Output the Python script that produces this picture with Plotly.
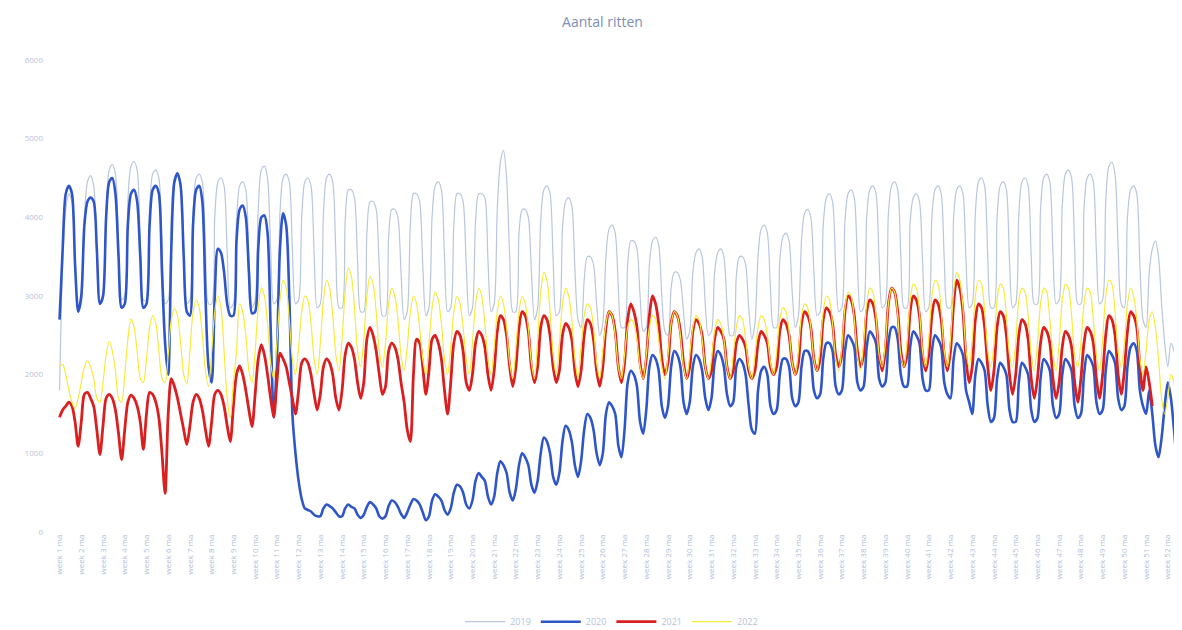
import plotly.graph_objects as go

title = "Aantal ritten"
series_names = ["2019", "2020", "2021", "2022"]
day_names = ["ma", "di", "wo", "do", "vr", "za", "zo"]
week_numbers = list(range(1, 53))

# weekly rows of 7 daily values
v2019 = [
    [1800, 3400, 4100, 4300, 4200, 3400, 2800],
    [2900, 4000, 4450, 4530, 4400, 3600, 2900],
    [2950, 4100, 4600, 4670, 4550, 3700, 2950],
    [3000, 4200, 4650, 4710, 4600, 3700, 2950],
    [2950, 4100, 4550, 4600, 4500, 3650, 2900],
    [2950, 4050, 4500, 4550, 4450, 3600, 2900],
    [2950, 4050, 4500, 4550, 4450, 3600, 2900],
    [2900, 4000, 4450, 4500, 4400, 3550, 2850],
    [2900, 3950, 4400, 4450, 4350, 3500, 2850],
    [2950, 4100, 4600, 4650, 4500, 3600, 2900],
    [2950, 4050, 4500, 4550, 4450, 3600, 2900],
    [2950, 4000, 4450, 4500, 4400, 3550, 2850],
    [2900, 4050, 4500, 4550, 4450, 3550, 2850],
    [2850, 3950, 4350, 4350, 4250, 3450, 2800],
    [2800, 3800, 4200, 4200, 4100, 3350, 2750],
    [2750, 3750, 4100, 4100, 4000, 3300, 2700],
    [2800, 3900, 4300, 4300, 4200, 3400, 2750],
    [2850, 4000, 4400, 4450, 4350, 3500, 2800],
    [2850, 3900, 4300, 4300, 4200, 3400, 2750],
    [2850, 3950, 4300, 4300, 4250, 3450, 2800],
    [2900, 4100, 4700, 4850, 4500, 3500, 2800],
    [2800, 3800, 4100, 4100, 4000, 3300, 2700],
    [2850, 3950, 4350, 4400, 4300, 3450, 2750],
    [2800, 3850, 4200, 4250, 4150, 3350, 2700],
    [2600, 3200, 3500, 3500, 3400, 2900, 2500],
    [2650, 3500, 3850, 3900, 3800, 3100, 2600],
    [2600, 3400, 3700, 3700, 3600, 3000, 2550],
    [2600, 3400, 3700, 3750, 3650, 3000, 2550],
    [2500, 3100, 3300, 3300, 3200, 2800, 2450],
    [2550, 3300, 3550, 3600, 3500, 2900, 2500],
    [2550, 3300, 3550, 3600, 3500, 2900, 2500],
    [2500, 3250, 3500, 3500, 3400, 2850, 2450],
    [2650, 3500, 3850, 3900, 3800, 3100, 2600],
    [2600, 3450, 3750, 3800, 3700, 3050, 2600],
    [2750, 3700, 4050, 4100, 4000, 3300, 2750],
    [2800, 3900, 4250, 4300, 4200, 3400, 2800],
    [2850, 3950, 4300, 4350, 4250, 3450, 2800],
    [2850, 4000, 4350, 4400, 4300, 3450, 2850],
    [2900, 4050, 4400, 4450, 4350, 3500, 2850],
    [2850, 3950, 4250, 4300, 4200, 3450, 2800],
    [2850, 4000, 4350, 4400, 4300, 3450, 2850],
    [2850, 4000, 4350, 4400, 4300, 3450, 2850],
    [2900, 4050, 4450, 4500, 4400, 3500, 2850],
    [2850, 4000, 4400, 4450, 4350, 3450, 2850],
    [2900, 4050, 4450, 4500, 4400, 3500, 2900],
    [2900, 4100, 4500, 4550, 4450, 3550, 2900],
    [2950, 4150, 4550, 4600, 4500, 3600, 2900],
    [2900, 4100, 4500, 4550, 4450, 3550, 2900],
    [2950, 4200, 4650, 4700, 4550, 3600, 2900],
    [2850, 4000, 4350, 4400, 4300, 3400, 2700],
    [2600, 3300, 3600, 3700, 3500, 2900, 2400],
    [2100, 2400, 2300, 2100, 2000, 2100, 2200],
]

v2020 = [
    [2700, 3600, 4300, 4400, 4300, 3400, 2800],
    [3000, 3900, 4200, 4250, 4200, 3600, 2900],
    [3000, 4000, 4450, 4500, 4300, 3500, 2850],
    [2900, 3900, 4300, 4350, 4200, 3500, 2850],
    [2900, 3900, 4350, 4400, 4300, 3300, 2400],
    [2000, 3600, 4450, 4560, 4400, 3500, 2800],
    [2750, 3900, 4350, 4400, 4200, 3000, 2100],
    [1900, 3000, 3600, 3550, 3300, 2900, 2750],
    [2750, 3700, 4100, 4150, 4000, 3300, 2780],
    [2800, 3600, 4000, 4025, 3800, 2600, 1460],
    [2200, 3600, 4050, 3900, 3000, 1500, 1000],
    [650, 420, 300, 280, 260, 220, 200],
    [200, 300, 350, 330, 300, 250, 200],
    [200, 300, 350, 320, 300, 220, 180],
    [220, 320, 380, 350, 300, 200, 170],
    [200, 330, 400, 380, 320, 230, 180],
    [250, 350, 420, 400, 350, 250, 150],
    [200, 400, 480, 450, 400, 280, 220],
    [300, 500, 600, 580, 500, 350, 300],
    [400, 650, 750, 700, 650, 450, 350],
    [450, 750, 900, 850, 750, 500, 400],
    [550, 850, 1000, 950, 850, 600, 500],
    [650, 1000, 1200, 1150, 1000, 700, 600],
    [750, 1150, 1350, 1300, 1150, 850, 700],
    [900, 1300, 1500, 1450, 1300, 1000, 850],
    [1000, 1500, 1650, 1600, 1500, 1100, 950],
    [1300, 1900, 2050, 2000, 1850, 1400, 1250],
    [1550, 2100, 2250, 2200, 2050, 1600, 1450],
    [1600, 2100, 2300, 2250, 2100, 1650, 1500],
    [1650, 2100, 2250, 2200, 2050, 1700, 1550],
    [1700, 2150, 2300, 2250, 2100, 1750, 1600],
    [1650, 2100, 2200, 2150, 2000, 1600, 1300],
    [1250, 1800, 2050, 2100, 2000, 1600, 1500],
    [1550, 2000, 2200, 2200, 2100, 1700, 1600],
    [1650, 2100, 2300, 2300, 2200, 1800, 1700],
    [1750, 2200, 2400, 2400, 2300, 1850, 1750],
    [1800, 2300, 2500, 2450, 2350, 1900, 1800],
    [1850, 2350, 2550, 2500, 2400, 1950, 1850],
    [1900, 2400, 2600, 2600, 2450, 2000, 1850],
    [1850, 2350, 2550, 2500, 2400, 1950, 1800],
    [1800, 2300, 2500, 2450, 2350, 1900, 1750],
    [1700, 2200, 2400, 2350, 2250, 1800, 1650],
    [1500, 2000, 2200, 2150, 2050, 1600, 1400],
    [1450, 1950, 2150, 2100, 2000, 1550, 1400],
    [1400, 1900, 2150, 2100, 2000, 1550, 1400],
    [1450, 1950, 2200, 2150, 2050, 1600, 1450],
    [1500, 2000, 2200, 2150, 2050, 1600, 1450],
    [1500, 2000, 2250, 2200, 2100, 1650, 1500],
    [1550, 2050, 2300, 2250, 2150, 1700, 1550],
    [1600, 2100, 2350, 2400, 2300, 1800, 1600],
    [1500, 1800, 1500, 1100, 950, 1200, 1600],
    [1900, 1700, 1300, 950, 900, 1100, 1200],
]

v2021 = [
    [1460, 1550, 1600, 1650, 1600, 1400, 1090],
    [1400, 1750, 1775, 1700, 1600, 1300, 985],
    [1350, 1700, 1750, 1700, 1550, 1250, 920],
    [1300, 1650, 1740, 1700, 1600, 1400, 1050],
    [1500, 1775, 1750, 1650, 1450, 1000, 490],
    [1500, 1950, 1850, 1700, 1500, 1300, 1110],
    [1350, 1650, 1750, 1700, 1550, 1300, 1090],
    [1400, 1750, 1800, 1750, 1600, 1350, 1150],
    [1600, 2000, 2110, 2000, 1800, 1550, 1340],
    [1750, 2200, 2380, 2250, 2000, 1700, 1460],
    [1900, 2275, 2200, 2100, 1900, 1700, 1500],
    [1800, 2150, 2200, 2150, 2000, 1750, 1550],
    [1750, 2100, 2200, 2150, 2000, 1700, 1550],
    [1800, 2250, 2400, 2350, 2200, 1900, 1700],
    [1900, 2450, 2600, 2500, 2300, 2000, 1750],
    [1850, 2300, 2400, 2350, 2200, 1900, 1650],
    [1300, 1150, 2000, 2450, 2400, 2100, 1750],
    [2050, 2450, 2500, 2400, 2200, 1800, 1500],
    [1900, 2400, 2550, 2500, 2300, 1900, 1800],
    [2000, 2400, 2550, 2500, 2350, 2000, 1800],
    [2050, 2550, 2750, 2700, 2500, 2100, 1850],
    [2100, 2600, 2800, 2750, 2550, 2100, 1900],
    [2100, 2600, 2750, 2700, 2500, 2100, 1900],
    [2050, 2500, 2650, 2600, 2450, 2050, 1850],
    [2050, 2500, 2700, 2650, 2450, 2050, 1850],
    [2100, 2600, 2800, 2750, 2550, 2100, 1900],
    [2150, 2700, 2900, 2800, 2600, 2150, 1950],
    [2200, 2750, 3000, 2900, 2650, 2200, 2000],
    [2150, 2650, 2800, 2750, 2550, 2150, 1950],
    [2100, 2550, 2700, 2650, 2500, 2100, 1950],
    [2050, 2450, 2600, 2550, 2450, 2100, 1950],
    [2050, 2400, 2500, 2450, 2350, 2050, 1950],
    [2050, 2400, 2550, 2500, 2400, 2100, 2000],
    [2100, 2550, 2700, 2650, 2500, 2150, 2000],
    [2150, 2650, 2800, 2750, 2600, 2200, 2050],
    [2200, 2700, 2850, 2800, 2650, 2250, 2100],
    [2250, 2800, 3000, 2950, 2750, 2300, 2100],
    [2250, 2800, 2950, 2900, 2700, 2250, 2050],
    [2300, 2900, 3100, 3050, 2800, 2300, 2100],
    [2250, 2800, 3000, 2950, 2750, 2250, 2050],
    [2250, 2750, 2950, 2900, 2700, 2250, 2050],
    [2300, 2900, 3200, 3100, 2800, 2200, 1900],
    [2100, 2700, 2900, 2850, 2600, 2100, 1800],
    [2050, 2600, 2800, 2750, 2500, 2000, 1750],
    [2000, 2500, 2700, 2650, 2450, 1950, 1700],
    [1950, 2400, 2600, 2550, 2400, 1950, 1700],
    [1900, 2350, 2550, 2500, 2350, 1900, 1650],
    [1950, 2400, 2600, 2550, 2400, 1950, 1700],
    [2000, 2500, 2750, 2700, 2500, 2000, 1750],
    [2050, 2550, 2800, 2750, 2600, 2100, 1800],
    [2100, 1900, 1600, None, None, None, None],
    [None, None, None, None, None, None, None],
]

v2022 = [
    [2100, 2130, 2000, 1800, 1650, 1570, 1700],
    [1900, 2100, 2175, 2100, 1950, 1700, 1650],
    [1900, 2250, 2425, 2300, 2050, 1700, 1650],
    [2000, 2450, 2710, 2600, 2300, 1950, 1900],
    [2200, 2600, 2750, 2650, 2300, 1950, 1900],
    [2250, 2700, 2840, 2750, 2400, 2000, 1880],
    [2300, 2800, 2950, 2850, 2500, 2050, 1850],
    [2300, 2800, 3000, 2850, 2300, 1700, 1450],
    [1900, 2300, 2900, 2800, 2500, 2050, 1900],
    [2300, 2850, 3100, 3000, 2650, 2150, 1950],
    [2400, 2950, 3200, 3100, 2700, 2200, 2000],
    [2350, 2800, 3000, 2950, 2650, 2200, 2000],
    [2400, 2950, 3200, 3100, 2750, 2250, 2050],
    [2450, 3050, 3350, 3250, 2850, 2300, 2100],
    [2450, 3000, 3250, 3150, 2800, 2300, 2100],
    [2400, 2900, 3100, 3000, 2700, 2250, 2050],
    [2350, 2800, 3000, 2900, 2600, 2200, 2000],
    [2400, 2850, 3050, 2950, 2650, 2200, 2000],
    [2350, 2800, 3000, 2900, 2600, 2200, 2000],
    [2400, 2900, 3100, 3000, 2650, 2200, 2000],
    [2350, 2800, 3000, 2900, 2600, 2150, 1950],
    [2350, 2800, 3000, 2900, 2600, 2150, 1950],
    [2450, 3050, 3300, 3200, 2800, 2250, 2000],
    [2400, 2900, 3100, 3000, 2700, 2200, 1950],
    [2350, 2750, 2900, 2850, 2600, 2150, 1950],
    [2300, 2650, 2800, 2750, 2500, 2100, 1950],
    [2250, 2600, 2700, 2650, 2450, 2100, 1950],
    [2250, 2600, 2750, 2700, 2450, 2100, 1950],
    [2250, 2650, 2800, 2750, 2500, 2100, 1950],
    [2250, 2600, 2750, 2700, 2450, 2100, 1950],
    [2200, 2550, 2700, 2650, 2450, 2100, 1950],
    [2250, 2600, 2750, 2700, 2450, 2100, 1950],
    [2250, 2600, 2750, 2700, 2500, 2150, 2000],
    [2300, 2700, 2850, 2800, 2550, 2150, 2000],
    [2300, 2750, 2900, 2850, 2600, 2200, 2050],
    [2350, 2800, 3000, 2950, 2650, 2200, 2050],
    [2350, 2850, 3050, 3000, 2700, 2250, 2050],
    [2400, 2900, 3100, 3050, 2750, 2250, 2100],
    [2400, 2900, 3100, 3050, 2750, 2250, 2100],
    [2400, 2950, 3150, 3100, 2800, 2300, 2100],
    [2450, 3000, 3200, 3150, 2800, 2300, 2100],
    [2450, 3050, 3300, 3200, 2850, 2300, 2100],
    [2450, 3000, 3200, 3150, 2800, 2300, 2100],
    [2400, 2950, 3150, 3100, 2750, 2250, 2100],
    [2400, 2950, 3100, 3050, 2750, 2250, 2050],
    [2400, 2900, 3100, 3050, 2700, 2250, 2050],
    [2400, 2950, 3150, 3100, 2750, 2250, 2100],
    [2400, 2900, 3100, 3050, 2700, 2250, 2050],
    [2450, 3000, 3200, 3150, 2800, 2300, 2100],
    [2400, 2900, 3100, 3000, 2700, 2200, 2000],
    [2300, 2700, 2800, 2600, 2200, 1700, 1500],
    [1700, 2000, 1900, 1500, 1300, 1250, 1300],
]

y_ticks = [0, 1000, 2000, 3000, 4000, 5000, 6000]

categories = [f"week {w} {d}" for w in week_numbers for d in day_names]
tick_cats = [f"week {w} {day_names[0]}" for w in week_numbers]


def flat(rows):
    return [v for row in rows for v in row]


colors = ["#b9c6dc", "#2f56c9", "#d91f1f", "#f7ea3c"]
widths = [1.2, 2.6, 2.8, 1.2]
all_vals = [v2019, v2020, v2021, v2022]

fig = go.Figure()
for name, vals, c, w in zip(series_names, all_vals, colors, widths):
    fig.add_trace(go.Scatter(
        x=categories, y=flat(vals), name=name, mode="lines",
        line=dict(color=c, width=w, shape="spline", smoothing=0.8),
        connectgaps=False,
    ))

fig.update_layout(
    width=1182, height=630,
    paper_bgcolor="white", plot_bgcolor="white",
    margin=dict(l=50, r=2, t=52, b=98),
    title=dict(text=title, x=0.503, xanchor="center", y=0.978, yanchor="middle",
               font=dict(family="Open Sans, sans-serif", size=14, color="#7f8fb0")),
    showlegend=True,
    legend=dict(orientation="h", x=0.49, xanchor="center", y=-0.19, yanchor="middle",
                font=dict(family="Open Sans, sans-serif", size=9, color="#b5c2d8"),
                itemwidth=40, traceorder="normal"),
    font=dict(family="Open Sans, sans-serif"),
)
fig.update_xaxes(
    type="category", range=[-0.5, len(categories) - 0.5],
    tickmode="array", tickvals=tick_cats, ticktext=tick_cats,
    tickangle=-90, tickfont=dict(size=8, color="#b0c0da"),
    showgrid=False, showline=False, zeroline=False, ticks="",
)
fig.update_yaxes(
    range=[0, 6000], tickvals=y_ticks, ticktext=[str(t) for t in y_ticks],
    tickfont=dict(size=8, color="#b8c4d8"), ticklabelstandoff=14,
    showgrid=False, zeroline=False, showline=False, ticks="",
)

fig.write_html("out.html")
